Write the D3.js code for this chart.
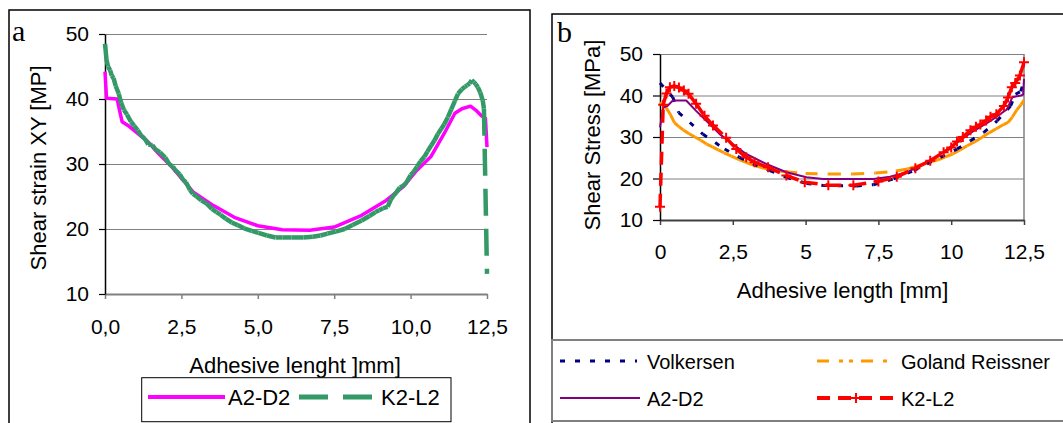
<!DOCTYPE html>
<html><head><meta charset="utf-8">
<script src="https://cdn.jsdelivr.net/npm/d3@7"></script>
<style>
body{margin:0;background:#fff}
svg{display:block}
text{font-family:"Liberation Sans",Arial,sans-serif;fill:#000}
</style>
</head><body>
<svg id="c" width="1063" height="423"></svg>
<script>
// ---------- data ----------
const xTicks = [0, 2.5, 5, 7.5, 10, 12.5];
const xTickLabelsA = ["0,0", "2,5", "5,0", "7,5", "10,0", "12,5"];
const xTickLabelsB = ["0", "2,5", "5", "7,5", "10", "12,5"];
const yTicks = [10, 20, 30, 40, 50];

// panel a
const a_A2D2 = [[0,44.2],[0.05,40.1],[0.40,40.0],[0.45,38.8],[0.56,36.5],[0.79,35.8],[1.07,34.7],[1.41,33.4],[1.75,31.6],[2.20,29.5],[2.88,25.7],[3.55,23.6],[4.23,21.8],[5.00,20.5],[5.80,19.9],[6.70,19.8],[7.50,20.3],[8.40,22.1],[9.20,24.4],[9.76,26.5],[10.20,29.0],[10.66,31.1],[11.10,34.7],[11.45,37.8],[11.68,38.5],[11.96,38.9],[12.13,38.3],[12.30,37.5],[12.45,37.0],[12.50,32.6]];
const a_K2L2 = [[0.00,48.5],[0.05,46.0],[0.10,45.0],[0.17,44.4],[0.22,43.6],[0.28,43.2],[0.35,42.0],[0.45,40.8],[0.53,39.4],[0.62,38.3],[0.72,37.6],[0.85,36.5],[0.95,35.9],[1.07,35.2],[1.18,34.4],[1.30,33.9],[1.42,33.0],[1.55,32.9],[1.64,32.3],[1.80,31.8],[1.97,31.0],[2.10,30.0],[2.22,29.6],[2.31,29.0],[2.45,28.4],[2.55,27.6],[2.65,27.2],[2.78,26.0],[2.88,25.4],[3.00,25.0],[3.15,24.4],[3.33,23.9],[3.50,23.1],[3.65,22.6],[3.78,22.2],[3.95,21.6],[4.15,21.0],[4.34,20.6],[4.55,20.1],[4.80,19.7],[5.02,19.4],[5.30,19.0],[5.58,18.7],[5.80,18.7],[6.10,18.7],[6.49,18.7],[6.80,18.8],[7.05,19.0],[7.28,19.3],[7.55,19.6],[7.84,20.0],[8.10,20.6],[8.40,21.3],[8.65,22.0],[8.85,22.6],[8.97,22.9],[9.10,23.2],[9.25,23.4],[9.35,24.5],[9.45,25.2],[9.53,25.6],[9.65,26.4],[9.75,26.6],[9.87,27.2],[10.00,28.3],[10.10,28.8],[10.21,29.6],[10.32,30.4],[10.45,31.1],[10.55,31.9],[10.68,32.9],[10.78,33.6],[10.89,34.6],[11.00,35.4],[11.10,36.1],[11.22,37.2],[11.33,38.4],[11.45,39.7],[11.55,40.8],[11.68,41.5],[11.78,41.9],[11.85,42.1],[11.93,42.4],[12.00,42.9],[12.07,42.6],[12.13,42.3],[12.20,41.8],[12.28,41.0],[12.36,39.8],[12.40,38.5],[12.50,13.1]];

// panel b
const b_Volkersen = [[0.00,43.0],[0.44,39.6],[0.64,35.9],[1.47,30.7],[2.22,27.1],[2.73,25.1],[3.19,23.5],[3.77,21.9],[4.34,20.3],[5.03,18.8],[5.60,18.3],[6.76,18.2],[7.33,18.5],[8.02,19.9],[8.71,21.9],[9.17,23.5],[9.63,25.1],[10.20,27.1],[10.66,29.1],[11.12,31.1],[11.58,33.9],[12.04,37.5],[12.21,40.3],[12.39,41.0],[12.50,43.6]];
const b_Goland = [[0.00,38.3],[0.20,37.2],[0.35,35.5],[0.50,33.4],[0.65,32.5],[0.80,31.7],[1.00,30.8],[1.20,30.0],[1.40,29.2],[1.60,28.3],[1.80,27.6],[2.00,26.9],[2.20,26.2],[2.45,25.4],[2.70,24.6],[2.95,23.9],[3.25,23.1],[3.55,22.5],[3.90,22.0],[4.30,21.6],[5.00,21.2],[5.80,21.1],[6.60,21.1],[7.40,21.3],[8.10,21.8],[8.50,22.3],[8.80,22.9],[9.05,23.5],[9.30,24.0],[9.55,24.5],[9.80,25.2],[10.05,25.9],[10.30,26.9],[10.55,27.9],[10.80,28.8],[11.05,29.9],[11.30,31.0],[11.55,32.0],[11.80,33.0],[11.95,33.5],[12.10,34.8],[12.25,36.5],[12.40,37.8],[12.50,38.9]];
const b_A2D2 = [[0.00,32.3],[0.11,37.1],[0.26,37.5],[0.44,38.8],[0.90,38.8],[1.24,36.3],[1.59,33.9],[2.05,30.7],[2.50,28.3],[2.96,25.9],[3.65,23.5],[4.34,21.5],[5.03,20.3],[5.60,19.9],[7.33,19.9],[7.90,20.4],[8.48,21.5],[9.05,23.5],[9.63,25.9],[10.20,28.7],[10.78,31.5],[11.35,33.9],[11.92,36.7],[12.10,39.6],[12.39,40.0],[12.47,40.2],[12.50,44.0]];
const b_K2L2 = [[0.00,13.2],[0.11,37.8],[0.22,40.5],[0.34,42.0],[0.49,42.3],[0.65,41.9],[0.82,41.2],[0.98,40.4],[1.24,38.0],[1.53,35.1],[1.82,32.8],[2.27,29.8],[2.62,27.1],[2.96,25.1],[3.25,23.9],[3.71,22.7],[4.34,20.7],[4.97,19.1],[5.78,18.4],[6.64,18.4],[7.50,19.3],[8.13,20.4],[8.77,22.5],[9.28,24.3],[9.74,26.3],[10.00,27.5],[10.20,28.9],[10.40,30.0],[10.66,31.6],[10.85,32.5],[11.00,33.0],[11.20,34.0],[11.35,34.9],[11.55,35.5],[11.81,37.5],[11.95,39.5],[12.08,42.0],[12.20,43.0],[12.36,44.8],[12.50,48.0]];

// ---------- drawing ----------
const svg = d3.select("#c");
const C = {magenta:"#FF00FF", green:"#339966", navy:"#000080", orange:"#FF9900", purple:"#800080", red:"#FF0000", grid:"#808080"};

// per-segment dashed line (dash pattern restarts at each data point)
function segLine(g, data, x, y, color, width, dash) {
  const line = d3.line().x(d => x(d[0])).y(d => y(d[1]));
  for (let i = 0; i < data.length - 1; i++) {
    g.append("path").attr("d", line([data[i], data[i+1]]))
      .attr("fill","none").attr("stroke",color).attr("stroke-width",width)
      .attr("stroke-dasharray",dash).attr("stroke-linecap","butt");
  }
}
function solidLine(g, data, x, y, color, width) {
  g.append("path").datum(data)
    .attr("d", d3.line().x(d => x(d[0])).y(d => y(d[1])))
    .attr("fill","none").attr("stroke",color).attr("stroke-width",width)
    .attr("stroke-linejoin","round");
}

// panel frames
svg.append("rect").attr("x",9).attr("y",10).attr("width",521).attr("height",430)
  .attr("fill","none").attr("stroke","#000").attr("stroke-width",1.5);
svg.append("rect").attr("x",552).attr("y",14).attr("width",530).attr("height",430)
  .attr("fill","none").attr("stroke","#000").attr("stroke-width",1.5);

svg.append("text").attr("x",12).attr("y",41).style("font-family",'"Liberation Serif","Times New Roman",serif').style("font-size","30px").text("a");
svg.append("text").attr("x",557).attr("y",42).style("font-family",'"Liberation Serif","Times New Roman",serif').style("font-size","30px").text("b");

// ===== panel a =====
const xA = d3.scaleLinear([0,12.5],[105,487]);
const yA = d3.scaleLinear([10,50],[294,34]);
const gA = svg.append("g");

gA.append("g").attr("transform","translate(105,0)")
  .call(d3.axisLeft(yA).tickValues([20,30,40,50]).tickSize(-(487-105)).tickFormat(""))
  .call(g => { g.select(".domain").remove(); g.selectAll("line").attr("stroke",C.grid).attr("stroke-width",1.2); });

gA.append("g").attr("transform","translate(0,294)")
  .call(d3.axisBottom(xA).tickValues(xTicks).tickSize(5).tickSizeOuter(0).tickPadding(20)
        .tickFormat((d,i) => xTickLabelsA[i]))
  .call(g => {
    g.select(".domain").attr("stroke",C.grid).attr("stroke-width",2);
    g.selectAll("line").attr("stroke",C.grid).attr("stroke-width",1.5);
    g.selectAll("text").style("font-size","21px").attr("font-family",null);
  });

gA.append("g").attr("transform","translate(105,0)")
  .call(d3.axisLeft(yA).tickValues(yTicks).tickSize(6).tickSizeOuter(0).tickPadding(10))
  .call(g => {
    g.select(".domain").attr("stroke","#000").attr("stroke-width",1.5);
    g.selectAll("line").attr("stroke","#000").attr("stroke-width",1.2);
    g.selectAll("text").style("font-size","21px").attr("font-family",null);
  });

solidLine(gA, a_A2D2, xA, yA, C.magenta, 3.5);
segLine(gA, a_K2L2, xA, yA, C.green, 4.5, "27,13");

gA.append("text").attr("transform","translate(46,168) rotate(-90)").attr("text-anchor","middle")
  .style("font-size","22px").text("Shear strain XY [MP]");
gA.append("text").attr("x",295).attr("y",373).attr("text-anchor","middle")
  .style("font-size","22px").text("Adhesive lenght ]mm]");

// legend a
gA.append("rect").attr("x",141.7).attr("y",377.7).attr("width",309.3).attr("height",44)
  .attr("fill","#fff").attr("stroke","#000").attr("stroke-width",1);
gA.append("line").attr("x1",148).attr("x2",225).attr("y1",397).attr("y2",397)
  .attr("stroke",C.magenta).attr("stroke-width",4);
gA.append("text").attr("x",228).attr("y",405).style("font-size","22px").text("A2-D2");
gA.append("line").attr("x1",299).attr("x2",372).attr("y1",397).attr("y2",397)
  .attr("stroke",C.green).attr("stroke-width",5).attr("stroke-dasharray","29,15");
gA.append("text").attr("x",381).attr("y",405).style("font-size","22px").text("K2-L2");

// ===== panel b =====
const xB = d3.scaleLinear([0,12.5],[660,1024]);
const yB = d3.scaleLinear([10,50],[220,54]);
const gB = svg.append("g");

gB.append("g").attr("transform","translate(660,0)")
  .call(d3.axisLeft(yB).tickValues([20,30,40,50]).tickSize(-(1024-660)).tickFormat(""))
  .call(g => { g.select(".domain").remove(); g.selectAll("line").attr("stroke",C.grid).attr("stroke-width",1.2); });
gB.append("line").attr("x1",xB(12.5)).attr("x2",xB(12.5)).attr("y1",yB(50)).attr("y2",yB(10))
  .attr("stroke",C.grid).attr("stroke-width",1.5);

gB.append("g").attr("transform","translate(0,220)")
  .call(d3.axisBottom(xB).tickValues(xTicks).tickSize(5).tickSizeOuter(0).tickPadding(19)
        .tickFormat((d,i) => xTickLabelsB[i]))
  .call(g => {
    g.select(".domain").attr("stroke","#404040").attr("stroke-width",2);
    g.selectAll("line").attr("stroke","#404040").attr("stroke-width",1.5);
    g.selectAll("text").style("font-size","21px").attr("font-family",null);
  });

gB.append("g").attr("transform","translate(660,0)")
  .call(d3.axisLeft(yB).tickValues(yTicks).tickSize(7).tickSizeOuter(0).tickPadding(10))
  .call(g => {
    g.select(".domain").attr("stroke","#000").attr("stroke-width",1.5);
    g.selectAll("line").attr("stroke","#000").attr("stroke-width",1.2);
    g.selectAll("text").style("font-size","21px").attr("font-family",null);
  });

segLine(gB, b_Goland, xB, yB, C.orange, 3, "12,10,4,6,4,8");
segLine(gB, b_Volkersen, xB, yB, C.navy, 3, "5,10");
solidLine(gB, b_A2D2, xB, yB, C.purple, 2);
segLine(gB, b_K2L2, xB, yB, C.red, 3.5, "13,8");
gB.append("g").selectAll("path").data(b_K2L2).join("path")
  .attr("d", d => `M${xB(d[0])-5},${yB(d[1])}h10M${xB(d[0])},${yB(d[1])-5}v10`)
  .attr("stroke",C.red).attr("stroke-width",2).attr("fill","none");

gB.append("text").attr("transform","translate(600,135) rotate(-90)").attr("text-anchor","middle")
  .style("font-size","22px").text("Shear Stress [MPa]");
gB.append("text").attr("x",842.5).attr("y",298).attr("text-anchor","middle")
  .style("font-size","22px").text("Adhesive length [mm]");

// legend b
gB.append("rect").attr("x",552).attr("y",340).attr("width",530).attr("height",81)
  .attr("fill","#fff").attr("stroke",C.grid).attr("stroke-width",2);
const legB = [
  {name:"Volkersen", color:C.navy, width:3, dash:"5,10", x1:560, x2:637, tx:647, y:361},
  {name:"Goland Reissner", color:C.orange, width:3, dash:"12,10,4,6,4,8", x1:817, x2:888, tx:901, y:361},
  {name:"A2-D2", color:C.purple, width:2, dash:null, x1:560, x2:640, tx:647, y:398},
  {name:"K2-L2", color:C.red, width:4, dash:"13,8", x1:817, x2:895, tx:901, y:398}
];
legB.forEach(e => {
  gB.append("line").attr("x1",e.x1).attr("x2",e.x2).attr("y1",e.y).attr("y2",e.y)
    .attr("stroke",e.color).attr("stroke-width",e.width).attr("stroke-dasharray",e.dash);
  gB.append("text").attr("x",e.tx).attr("y",e.y+7.5).style("font-size","20px").text(e.name);
});
gB.append("path").attr("d","M851,398h10M856,393v10").attr("stroke",C.red).attr("stroke-width",2);
</script>
</body></html>
